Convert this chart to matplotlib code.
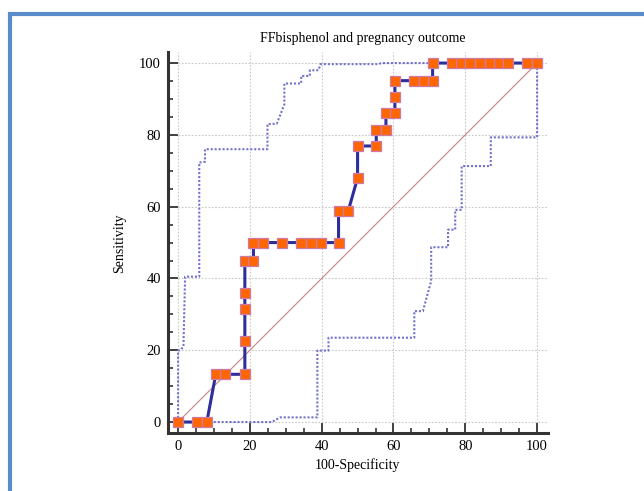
import numpy as np
import matplotlib
matplotlib.use('Agg')
import matplotlib.pyplot as plt
from matplotlib.patches import Rectangle
from matplotlib.ticker import MultipleLocator

plt.rcParams['font.family'] = ['Liberation Serif', 'DejaVu Serif']

# ROC points (100-specificity, sensitivity)
roc_x = [0, 5.3, 8.0, 10.5, 13.2, 18.6, 18.6, 18.6, 18.6, 18.6, 21.0, 21.0, 23.7, 29.0,
         34.3, 37.0, 39.7, 44.7, 44.7, 47.4, 50.0, 50.0, 55.2, 55.2, 57.9, 57.9, 60.4,
         60.4, 60.4, 65.7, 68.4, 70.9, 70.9, 76.2, 78.8, 81.4, 84.1, 86.8, 89.4, 92.0,
         97.3, 100]
roc_y = [0, 0, 0, 13.3, 13.3, 13.3, 22.5, 31.4, 36.0, 45.0, 45.0, 50.0, 50.0, 50.0,
         50.0, 50.0, 50.0, 50.0, 58.8, 58.8, 68.0, 76.9, 76.9, 81.3, 81.3, 86.2, 86.2,
         90.6, 95.1, 95.1, 95.1, 95.1, 100, 100, 100, 100, 100, 100, 100, 100,
         100, 100]

# confidence bounds
upper_x = [0, 0, 0.6, 1.5, 1.95, 5.9, 5.9, 7.5, 7.5, 24.9, 24.9, 27.5, 29.6, 29.6,
           34.3, 34.3, 36.7, 36.7, 39.1, 39.7, 56.0, 56.5, 100]
upper_y = [0, 19.9, 20.0, 21.0, 40.5, 40.5, 72.3, 72.5, 76.0, 76.0, 83.0, 83.1, 88.5,
           94.3, 94.3, 96.4, 96.4, 98.0, 98.0, 99.7, 99.7, 100, 100]
lower_x = [0, 26.1, 28.4, 38.8, 38.8, 41.9, 41.9, 65.8, 65.8, 68.2, 70.5, 70.5, 75.2,
           75.2, 77.2, 77.2, 79.0, 79.0, 87.1, 87.1, 100, 100]
lower_y = [0, 0, 1.3, 1.3, 19.9, 19.9, 23.5, 23.5, 30.9, 30.9, 39.3, 48.7, 48.7,
           53.6, 53.6, 59.1, 59.1, 71.3, 71.3, 79.3, 79.3, 100]

fig = plt.figure(figsize=(6.44, 4.91), dpi=100)
ax = fig.add_axes([0.2609, 0.1185, 0.5898, 0.775])

ax.grid(True, which='major', color='#c8c8c8', linestyle=(0, (1.5, 1.5)), linewidth=0.8)
ax.set_axisbelow(True)

ax.plot([0, 100], [0, 100], color='#c98282', lw=0.8, zorder=2)
ax.plot(upper_x, upper_y, color='#7272cc', lw=1.5, linestyle=(0, (1, 0.9)), zorder=3)
ax.plot(lower_x, lower_y, color='#7272cc', lw=1.5, linestyle=(0, (1, 0.9)), zorder=3)
ax.plot(roc_x, roc_y, color='#2d2d9c', lw=2.2, zorder=4,
        marker='s', markersize=7.2, markerfacecolor='#ff6600',
        markeredgecolor='#cc7aa8', markeredgewidth=0.9)

ax.set_xlim(-2.8, 103)
ax.set_ylim(-3, 103)
ax.xaxis.set_major_locator(MultipleLocator(20))
ax.yaxis.set_major_locator(MultipleLocator(20))
ax.xaxis.set_minor_locator(MultipleLocator(5))
ax.yaxis.set_minor_locator(MultipleLocator(5))
ax.tick_params(which='major', direction='in', length=7.5, width=1.3, color='#333333',
               labelsize=10.5, pad=5)
ax.tick_params(which='minor', direction='in', length=3.5, width=1.2, color='#333333')

for s in ['top', 'right']:
    ax.spines[s].set_visible(False)
for s in ['left', 'bottom']:
    ax.spines[s].set_linewidth(2.2)
    ax.spines[s].set_color('#333333')

fig.text(0.564, 0.921, 'FFbisphenol and pregnancy outcome', ha='center', va='center',
         fontsize=10)
fig.text(0.186, 0.505, 'Sensitivity', rotation=90, ha='center', va='center', fontsize=10)
fig.text(0.555, 0.053, '100-Specificity', ha='center', va='center', fontsize=10)

fig.patches.append(Rectangle((0.015, -0.2), 1.2, 1.172, transform=fig.transFigure,
                             fill=False, edgecolor='#5b8bc9', lw=3, clip_on=False))

fig.savefig('out.png', dpi=100)
